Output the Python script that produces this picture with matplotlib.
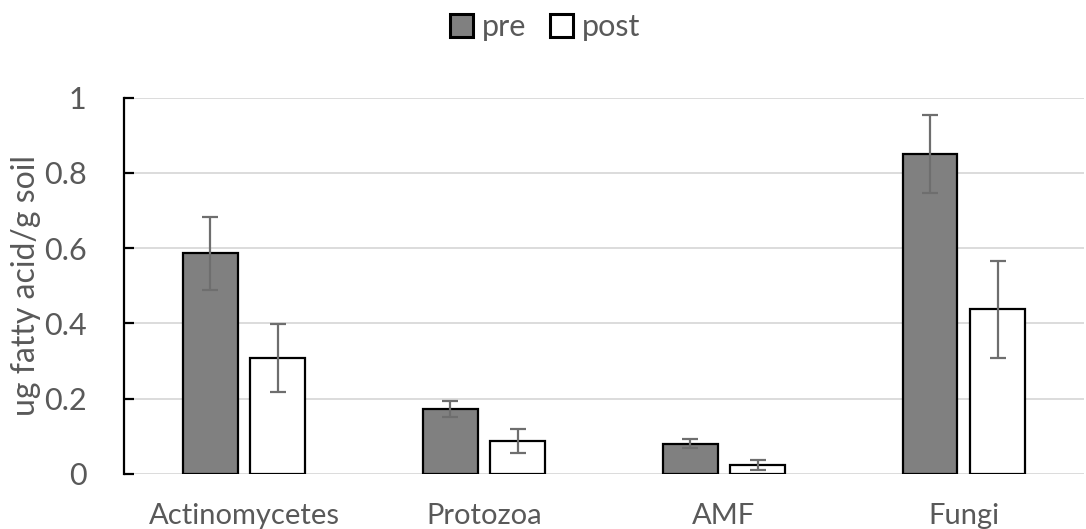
import matplotlib
matplotlib.use("Agg")
import matplotlib.pyplot as plt
import numpy as np
from matplotlib.ticker import FuncFormatter

categories = ["Actinomycetes", "Protozoa", "AMF", "Fungi"]
pre = [0.587, 0.173, 0.080, 0.850]
pre_err = [0.097, 0.021, 0.012, 0.104]
post = [0.309, 0.088, 0.023, 0.437]
post_err = [0.090, 0.032, 0.013, 0.128]

TXT = "#595959"
plt.rcParams["font.family"] = ["Lato", "DejaVu Sans"]

fig = plt.figure(figsize=(10.86, 5.29), dpi=100)
ax = fig.add_axes([0.1142, 0.104, 0.8838, 0.7116])

x = np.arange(len(categories))
w = 0.229
off = 0.141
err_kw = dict(ecolor="#6e6e6e", elinewidth=1.6, capsize=6, capthick=1.6)
ax.bar(x - off, pre, w, yerr=pre_err, color="#808080", edgecolor="black",
       linewidth=1.6, label="pre", error_kw=err_kw, zorder=3)
ax.bar(x + off, post, w, yerr=post_err, color="white", edgecolor="black",
       linewidth=1.6, label="post", error_kw=err_kw, zorder=3)

ax.set_xlim(-0.5, len(categories) - 0.5)
ax.set_ylim(0, 1)
ax.set_yticks(np.arange(0, 1.01, 0.2))
ax.yaxis.set_major_formatter(FuncFormatter(lambda v, p: f"{v:g}"))
ax.set_xticks(x)
ax.set_xticklabels(categories)

ax.grid(axis="y", color="#d9d9d9", linewidth=1.3, zorder=0)
for s in ["top", "right", "bottom"]:
    ax.spines[s].set_visible(False)
ax.spines["left"].set_linewidth(1.6)
ax.spines["left"].set_color("black")
ax.tick_params(axis="y", direction="in", length=7, width=1.6, color="black",
               labelsize=22, labelcolor=TXT, pad=27)
ax.tick_params(axis="x", length=0, labelsize=21, labelcolor=TXT, pad=21)
ax.set_ylabel("ug fatty acid/g soil", fontsize=23, color=TXT)
ax.yaxis.set_label_coords(-0.086, 0.5)

fig.legend(loc="center", bbox_to_anchor=(0.502, 0.949), ncol=2, frameon=False,
           fontsize=22, labelcolor=TXT, handlelength=0.75, handleheight=0.78,
           handletextpad=0.3, columnspacing=0.78)
for h in fig.legends[0].legend_handles:
    h.set_linewidth(2.2)

fig.savefig("out.png", dpi=100)
